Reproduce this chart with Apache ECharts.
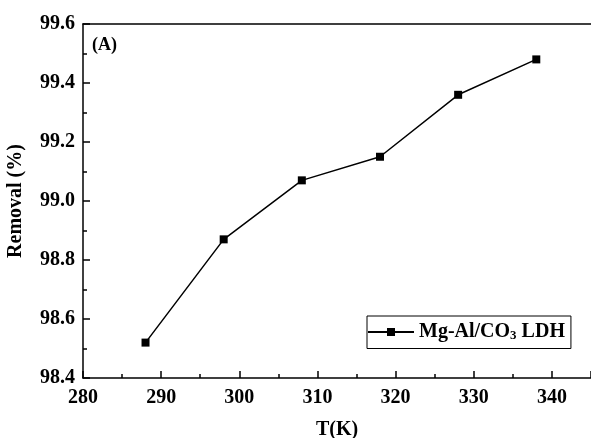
<!DOCTYPE html>
<html>
<head>
<meta charset="utf-8">
<script src="https://cdn.jsdelivr.net/npm/echarts@6/dist/echarts.min.js"></script>
<style>html,body{margin:0;padding:0;background:#fff}#c{width:591px;height:438px}</style>
</head>
<body>
<div id="c"></div>
<script>
var temps = [288, 298, 308, 318, 328, 338];
var removal = [98.52, 98.87, 99.07, 99.15, 99.36, 99.48];
var seriesName = 'Mg-Al/CO3 LDH';
var xTicks = [280, 290, 300, 310, 320, 330, 340];

var font = 'Liberation Serif';
var chart = echarts.init(document.getElementById('c'));
chart.setOption({
  animation: false,
  backgroundColor: '#fff',
  grid: {left: 83, right: 0, top: 24, bottom: 60, containLabel: false, outerBoundsMode: 'none'},
  graphic: [{type: 'text', left: 92, top: 36, style: {text: '(A)', font: 'bold 18px "Liberation Serif"', fill: '#000'}}],
  legend: {
    left: 367, top: 316,
    padding: [6, 6, 6, 0],
    borderColor: '#000', borderWidth: 1,
    itemWidth: 46, itemHeight: 10,
    itemGap: 0,
    data: [{name: seriesName}],
    formatter: function () { return 'Mg-Al/CO{s|3} LDH'; },
    textStyle: {
      fontFamily: font, fontWeight: 'bold', fontSize: 20, color: '#000',
      rich: {s: {fontFamily: font, fontWeight: 'bold', fontSize: 13, verticalAlign: 'bottom', padding: [8, 0, 0, 0]}}
    }
  },
  xAxis: [{
    type: 'value', min: 280, max: 345, interval: 10,
    name: 'T(K)', nameLocation: 'middle', nameGap: 42,
    nameTextStyle: {fontFamily: font, fontWeight: 'bold', fontSize: 20, color: '#000'},
    axisLine: {show: true, lineStyle: {color: '#000', width: 1.5}},
    axisTick: {show: true, inside: true, length: 7, lineStyle: {color: '#000', width: 1.5}},
    minorTick: {show: true, splitNumber: 2, length: 4, lineStyle: {color: '#000', width: 1.5}},
    splitLine: {show: false},
    axisLabel: {
      fontFamily: font, fontWeight: 'bold', fontSize: 20, color: '#000', margin: 10, showMaxLabel: false,
      formatter: function (v) { return xTicks.indexOf(v) >= 0 ? String(v) : ''; }
    }
  }, {
    type: 'value', min: 280, max: 345, position: 'top',
    axisLine: {show: true, lineStyle: {color: '#000', width: 1.5}},
    axisTick: {show: false}, axisLabel: {show: false}, splitLine: {show: false}
  }],
  yAxis: {
    type: 'value', min: 98.4, max: 99.6, interval: 0.2,
    name: 'Removal (%)', nameLocation: 'middle', nameGap: 57, nameRotate: 90,
    nameTextStyle: {fontFamily: font, fontWeight: 'bold', fontSize: 20, color: '#000'},
    axisLine: {show: true, lineStyle: {color: '#000', width: 1.5}},
    axisTick: {show: true, inside: true, length: 7, lineStyle: {color: '#000', width: 1.5}},
    minorTick: {show: true, splitNumber: 2, length: 4, lineStyle: {color: '#000', width: 1.5}},
    splitLine: {show: false},
    axisLabel: {
      fontFamily: font, fontWeight: 'bold', fontSize: 20, color: '#000', margin: 8,
      formatter: function (v) { return v.toFixed(1); }
    }
  },
  series: [{
    name: seriesName, type: 'line',
    data: temps.map(function (t, i) { return [t, removal[i]]; }),
    symbol: 'rect', symbolSize: 8,
    itemStyle: {color: '#000'},
    lineStyle: {color: '#000', width: 1.5}
  }]
});
</script>
</body>
</html>
